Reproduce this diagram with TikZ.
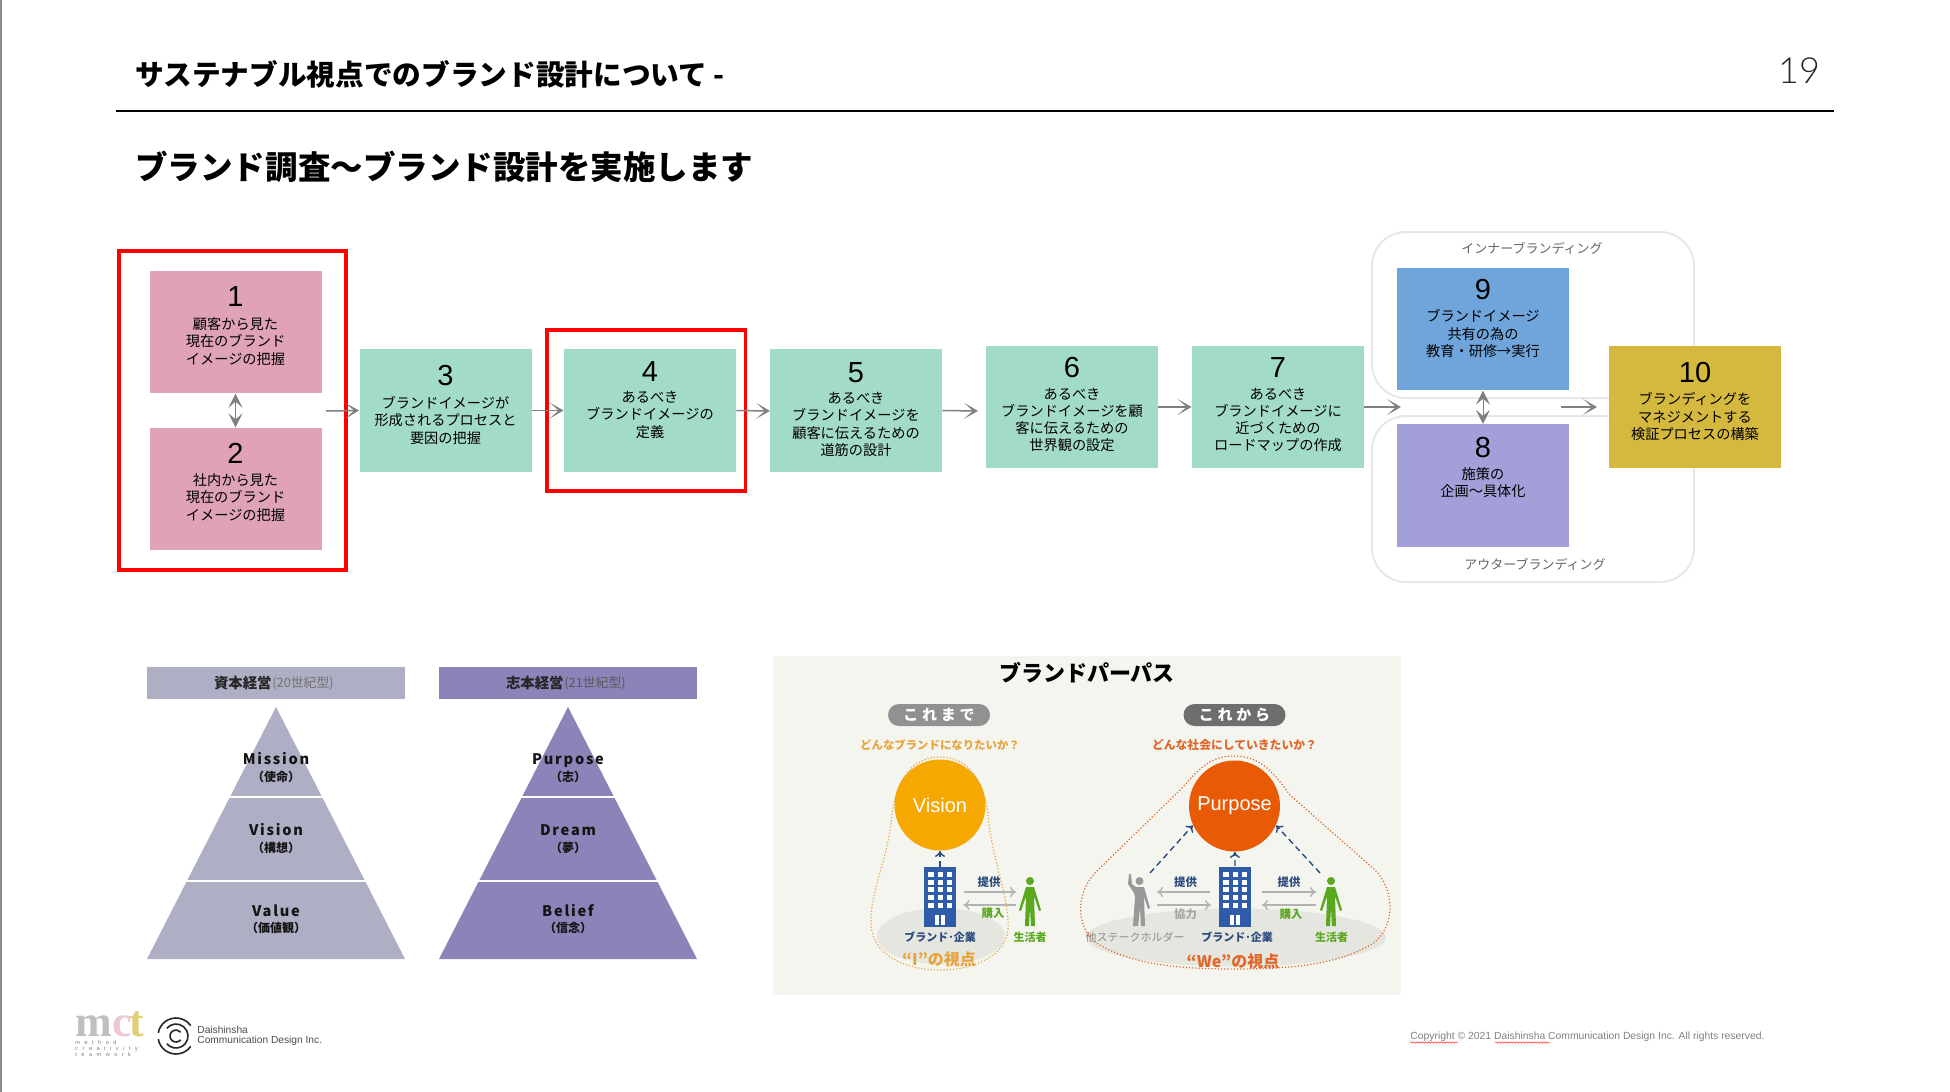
\documentclass[tikz,border=0pt]{standalone}
\usepackage{fontspec}
\usetikzlibrary{arrows.meta, positioning, calc, decorations.pathmorphing}
\setmainfont{Noto Sans CJK JP}
\newfontfamily\latinfont{Liberation Sans}
\newfontfamily\serifbold{Liberation Serif}
\newfontfamily\lightfont{Lato Light}
\newfontfamily\spacedfont[LetterSpace=12]{Noto Sans CJK JP}
\newfontfamily\widefont[LetterSpace=25]{Noto Sans CJK JP}
\newfontfamily\tinyfont[LetterSpace=80]{Liberation Sans}

\definecolor{stepPink}{HTML}{DFA2B8}
\definecolor{stepGreen}{HTML}{A3DBC9}
\definecolor{stepBlue}{HTML}{70A5DB}
\definecolor{stepPurple}{HTML}{A29FD9}
\definecolor{stepYellow}{HTML}{D5B93F}
\definecolor{capGray}{HTML}{AEAEC4}
\definecolor{purPurple}{HTML}{8B84B8}
\definecolor{panelBg}{HTML}{F5F5F0}
\definecolor{groundGray}{HTML}{E6E6E0}
\definecolor{navyBlue}{HTML}{2A4A80}
\definecolor{bldgBlue}{HTML}{2F5CA8}
\definecolor{manGreen}{HTML}{5AA820}
\definecolor{visionOrange}{HTML}{F5A800}
\definecolor{purposeOrange}{HTML}{E85A04}
\definecolor{iOrange}{HTML}{E8A33D}
\definecolor{weOrange}{HTML}{E0662A}

\newcommand{\bldg}[1]{%
  \begin{scope}[shift={(#1,0)}]
    \fill[bldgBlue] (-16,866.5) rectangle (16,926.5);
    \foreach \wx in {-11.6,-2.2,6.7}
      \foreach \wy in {872,880,887,895,903}
        \fill[white] (\wx,\wy) rectangle ++(5.4,5);
    \fill[white] (-4.7,915) rectangle (-0.6,925);
    \fill[white] (0.6,915) rectangle (4.7,925);
  \end{scope}}
\newcommand{\person}[1]{%
  \begin{scope}[shift={(#1,0)}]
    \fill[manGreen] (0,881) circle [radius=4];
    \fill[manGreen] (-4,887) -- (4,887) -- (11,910) -- (9,911) -- (4,896) -- (5,926)
      -- (1,926) -- (0,908) -- (-1,926) -- (-5,926) -- (-4,896) -- (-9,911) -- (-11,910) -- cycle;
  \end{scope}}

\begin{document}
\begin{tikzpicture}[
  x=0.5pt, y=-0.5pt,
  stepbox/.style={minimum width=86pt, minimum height=61.25pt, inner sep=0pt},
  pinkbox/.style={stepbox, fill=stepPink},
  greenbox/.style={stepbox, fill=stepGreen},
  stepnum/.style={font=\latinfont\fontsize{14.5}{14.5}\selectfont, inner sep=0pt},
  steptxt/.style={font=\fontsize{7.1}{8.65}\selectfont, align=center, inner sep=0pt, anchor=north,
                  execute at begin node=\rule{0pt}{6.2pt}},
  redframe/.style={draw=red, line width=1.9pt},
  groupbox/.style={draw=black!9, line width=1pt, rounded corners=17pt, inner sep=0pt},
  grouplabel/.style={font=\fontsize{6.5}{6.5}\selectfont, text=black!60, inner sep=0pt},
  flow/.style={draw=black!50, line width=0.75pt, -{Stealth[length=7pt, width=8pt, inset=4.5pt]}},
  twoway/.style={draw=black!50, line width=0.5pt,
                 {Stealth[length=7pt, width=7pt, inset=3pt]}-{Stealth[length=7pt, width=7pt, inset=3pt]}},
  capbar/.style={minimum width=129.25pt, minimum height=16pt, inner sep=0pt},
  pyrname/.style={font=\spacedfont\bfseries\fontsize{7.3}{7.3}\selectfont, text=black!92, inner sep=0pt, anchor=base},
  pyrsub/.style={font=\bfseries\fontsize{6}{6}\selectfont, text=black!92, inner sep=0pt},
  pill/.style={rounded corners=5.5pt, minimum width=51pt, minimum height=11pt, inner sep=0pt,
               text=white, font=\widefont\bfseries\fontsize{7.5}{7.5}\selectfont},
  ball/.style={circle, minimum size=45.5pt, inner sep=0pt, text=white,
               font=\latinfont\fontsize{10}{10}\selectfont},
  tag/.style={font=\bfseries\fontsize{5.7}{5.7}\selectfont, inner sep=0pt},
  who/.style={font=\fontsize{5.5}{5.5}\selectfont, inner sep=0pt},
  gives/.style={draw=black!30, line width=0.7pt, -{To[length=3pt, width=5pt]}},
  aim/.style={draw=navyBlue, line width=0.7pt, densely dashed, -{To[length=3pt, width=5pt]}},
  logoletter/.style={font=\serifbold\bfseries\fontsize{22}{22}\selectfont, inner sep=0pt, anchor=base west}
]
\useasboundingbox (0,0) rectangle (1950,1092);
\fill[white] (0,0) rectangle (1950,1092);
\draw[black!45, line width=1pt] (1,0) -- (1,1092);

%% Page head
\node[font=\bfseries\fontsize{14.33}{14.33}\selectfont, anchor=west, inner sep=0pt] (pagehead) at (135,74)
    {サステナブル視点でのブランド設計について -};
\node[font=\lightfont\fontsize{18}{18}\selectfont, text=black!85, inner sep=0pt] (pageno) at (1799,71) {19};
\draw[line width=1pt] (116,111) -- (1834,111);
\node[font=\bfseries\fontsize{16.26}{16.26}\selectfont, anchor=west, inner sep=0pt] (subhead) at (135,167)
    {ブランド調査～ブランド設計を実施します};

%% Groups behind steps 8, 9, 10
\node[groupbox, minimum width=161pt, minimum height=83pt] (inner) at (1533,315) {};
\node[groupbox, minimum width=161pt, minimum height=83pt] (outer) at (1533,499) {};
\node[grouplabel] (innerlabel) at (1532,248) {インナーブランディング};
\node[grouplabel] (outerlabel) at (1535,564) {アウターブランディング};

%% Steps
\node[pinkbox] (b1) at (235.5,332) {};
\node[pinkbox] (b2) at (235.5,489) {};
\node[greenbox] (b3) at (445.5,410.5) {};
\node[greenbox] (b4) at (650,410.5) {};
\node[greenbox] (b5) at (856,410.5) {};
\node[greenbox] (b6) at (1072,407) {};
\node[greenbox] (b7) at (1278,407) {};
\node[stepbox, fill=stepBlue] (b9) at (1483,329) {};
\node[stepbox, fill=stepPurple] (b8) at (1483,485.5) {};
\node[stepbox, fill=stepYellow] (b10) at (1695,407) {};

\node[stepnum] (n1) at ($(b1.north)+(0,26.5)$) {1};
\node[steptxt] (t1) at ($(b1.north)+(0,47)$) {顧客から見た\\現在のブランド\\イメージの把握};
\node[stepnum] (n2) at ($(b2.north)+(0,26.5)$) {2};
\node[steptxt] (t2) at ($(b2.north)+(0,46)$) {社内から見た\\現在のブランド\\イメージの把握};
\node[stepnum] (n3) at ($(b3.north)+(0,26.5)$) {3};
\node[steptxt] (t3) at ($(b3.north)+(0,47)$) {ブランドイメージが\\形成されるプロセスと\\要因の把握};
\node[stepnum] (n4) at ($(b4.north)+(0,22.5)$) {4};
\node[steptxt] (t4) at ($(b4.north)+(0,42)$) {あるべき\\ブランドイメージの\\定義};
\node[stepnum] (n5) at ($(b5.north)+(0,23.5)$) {5};
\node[steptxt] (t5) at ($(b5.north)+(0,43)$) {あるべき\\ブランドイメージを\\顧客に伝えるための\\道筋の設計};
\node[stepnum] (n6) at ($(b6.north)+(0,22.5)$) {6};
\node[steptxt] (t6) at ($(b6.north)+(0,42)$) {あるべき\\ブランドイメージを顧\\客に伝えるための\\世界観の設定};
\node[stepnum] (n7) at ($(b7.north)+(0,22.5)$) {7};
\node[steptxt] (t7) at ($(b7.north)+(0,42)$) {あるべき\\ブランドイメージに\\近づくための\\ロードマップの作成};
\node[stepnum] (n9) at ($(b9.north)+(0,22.5)$) {9};
\node[steptxt] (t9) at ($(b9.north)+(0,42)$) {ブランドイメージ\\共有の為の\\教育・研修→実行};
\node[stepnum] (n8) at ($(b8.north)+(0,23.5)$) {8};
\node[steptxt] (t8) at ($(b8.north)+(0,43)$) {施策の\\企画～具体化};
\node[stepnum] (n10) at ($(b10.north)+(0,27.5)$) {10};
\node[steptxt] (t10) at ($(b10.north)+(0,47)$) {ブランディングを\\マネジメントする\\検証プロセスの構築};

%% Red frames
\draw[redframe] (119,251) rectangle (346,570);
\draw[redframe] (547,330) rectangle (745.5,491);

%% Connectors
\coordinate (c12) at (326,411);
\coordinate (to6) at (978,411);
\coordinate (to5) at (770,411);
\coordinate (off7) at (1401,407);
\coordinate (from89) at (1561,407);
\coordinate (to10) at (1597,407);
\draw[twoway] (b1.south) -- (b2.north);
\draw[flow] (c12) -- (b3.west);
\draw[flow] (b3.east) -- (b4.west);
\draw[flow] (b4.east) -- (to5);
\draw[flow] (b5.east) -- (to6);
\draw[flow] (b6.east) -- (b7.west);
\draw[flow] (b7.east) -- (off7);
\draw[twoway] (b9.south) -- (b8.north);
\draw[flow] (from89) -- (to10);

%% Pyramids
\node[capbar, fill=capGray] (capleft) at (276,683) {};
\node[capbar, fill=purPurple] (capright) at (568,683) {};
\node[inner sep=0pt, anchor=east, font=\bfseries\fontsize{7.2}{7.2}\selectfont, text=black!85] (capl1) at (272,683) {資本経営};
\node[inner sep=0pt, anchor=west, font=\fontsize{6.4}{6.4}\selectfont, text=black!55] (capl2) at (272,683) {(20世紀型)};
\node[inner sep=0pt, anchor=east, font=\bfseries\fontsize{7.2}{7.2}\selectfont, text=black!85] (capr1) at (564,683) {志本経営};
\node[inner sep=0pt, anchor=west, font=\fontsize{6.4}{6.4}\selectfont, text=black!65] (capr2) at (564,683) {(21世紀型)};
\foreach \cx/\col in {276/capGray, 568/purPurple} {
  \fill[\col] (\cx,707) -- ($(\cx,707)+(129,252)$) -- ($(\cx,707)+(-129,252)$) -- cycle;
  \draw[white, line width=1pt] ($(\cx,797)+(-55,0)$) -- ($(\cx,797)+(55,0)$);
  \draw[white, line width=1pt] ($(\cx,881)+(-100,0)$) -- ($(\cx,881)+(100,0)$);
}
\node[pyrname] (mission) at (276,764.5) {Mission};
\node[pyrsub] (missionsub) at (276,777) {（使命）};
\node[pyrname] (vision) at (276,835.5) {Vision};
\node[pyrsub] (visionsub) at (276,848) {（構想）};
\node[pyrname] (value) at (276,916.5) {Value};
\node[pyrsub] (valuesub) at (276,928) {（価値観）};
\node[pyrname] (purpose) at (568,764.5) {Purpose};
\node[pyrsub] (purposesub) at (568,777) {（志）};
\node[pyrname] (dream) at (568,835.5) {Dream};
\node[pyrsub] (dreamsub) at (568,848) {（夢）};
\node[pyrname] (belief) at (568,916.5) {Belief};
\node[pyrsub] (beliefsub) at (568,928) {（信念）};

%% Brand purpose panel
\fill[panelBg] (772.5,656) rectangle (1400.5,995);
\node[font=\bfseries\fontsize{11}{11}\selectfont, inner sep=0pt] (paneltitle) at (1087,673) {ブランドパーパス};
\node[pill, fill=black!43] (before) at (939,715) {これまで};
\node[pill, fill=black!57] (after) at (1234.5,715) {これから};
\node[font=\bfseries\fontsize{5.7}{5.7}\selectfont, text=iOrange, inner sep=0pt] (askleft) at (940,745) {どんなブランドになりたいか？};
\node[font=\bfseries\fontsize{5.9}{5.9}\selectfont, text=weOrange, inner sep=0pt] (askright) at (1234.5,745) {どんな社会にしていきたいか？};

\fill[groundGray] (941,936) ellipse [x radius=64, y radius=28];
\fill[groundGray] (1236,937.5) ellipse [x radius=150, y radius=29];

\node[ball, fill=visionOrange] (vball) at (940,805) {Vision};
\node[ball, fill=purposeOrange] (pball) at (1234.5,806) {Purpose};

\draw[iOrange, densely dotted, line width=0.6pt] (940,757) .. controls (968,757) and (984,780) .. (988,815)
  .. controls (992,860) and (1010,900) .. (1008,930) .. controls (1006,955) and (975,970) .. (940,970)
  .. controls (905,970) and (873,955) .. (871,925) .. controls (870,890) and (888,860) .. (892,815)
  .. controls (896,780) and (912,757) .. (940,757) -- cycle;
\draw[weOrange, densely dotted, line width=0.6pt] (1234,756) .. controls (1262,756) and (1275,775) .. (1290,795)
  -- (1375,870) .. controls (1395,890) and (1395,925) .. (1375,942) .. controls (1340,965) and (1290,969) .. (1235,969)
  .. controls (1180,969) and (1130,965) .. (1095,942) .. controls (1075,925) and (1075,890) .. (1100,868)
  -- (1180,790) .. controls (1195,775) and (1206,756) .. (1234,756) -- cycle;

\bldg{940}
\bldg{1235}
\person{1030}
\person{1331}
%% the stakeholder with one arm up
\fill[black!40] (1139.5,881) circle [radius=4];
\fill[black!40] (1136,887) -- (1144,887) -- (1150,908) -- (1148,909) -- (1144,897) -- (1145,926)
  -- (1141,926) -- (1140,908) -- (1138,926) -- (1133,926) -- (1135,897) -- (1134,893)
  -- (1128,884) -- (1129,874) -- (1131,874) -- (1132,884) -- cycle;

\coordinate (bl) at (940,867);
\coordinate (br) at (1235,866);
\coordinate (sta) at (1150,873);
\coordinate (man) at (1320,873);
\draw[aim] (bl) -- (vball);
\draw[aim] (br) -- (pball);
\draw[aim] (sta) -- (pball.205);
\draw[aim] (man) -- (pball.335);

\coordinate (g1) at (963.5,892); \coordinate (g2) at (1016,892);
\coordinate (g3) at (1016,905);  \coordinate (g4) at (963.5,905);
\coordinate (g5) at (1262,892);  \coordinate (g6) at (1316,892);
\coordinate (g7) at (1316,905);  \coordinate (g8) at (1262,905);
\coordinate (g9) at (1210,892);  \coordinate (g10) at (1157,892);
\coordinate (g11) at (1157,905); \coordinate (g12) at (1211,905);
\draw[gives] (g1) -- (g2);
\draw[gives] (g3) -- (g4);
\draw[gives] (g5) -- (g6);
\draw[gives] (g7) -- (g8);
\draw[gives] (g9) -- (g10);
\draw[gives] (g11) -- (g12);

\node[tag, text=navyBlue] (give1) at (989,882) {提供};
\node[tag, text=manGreen] (buy1) at (993,913) {購入};
\node[tag, text=navyBlue] (give2) at (1185.5,882) {提供};
\node[tag, text=black!35] (help) at (1185.5,914) {協力};
\node[tag, text=navyBlue] (give3) at (1289,882) {提供};
\node[tag, text=manGreen] (buy2) at (1291,914) {購入};
\node[who, text=navyBlue, font=\bfseries\fontsize{5.5}{5.5}\selectfont] (co1) at (940,937) {ブランド･企業};
\node[who, text=navyBlue, font=\bfseries\fontsize{5.5}{5.5}\selectfont] (co2) at (1237,937) {ブランド･企業};
\node[who, text=manGreen, font=\bfseries\fontsize{5.5}{5.5}\selectfont] (man1) at (1030,937) {生活者};
\node[who, text=manGreen, font=\bfseries\fontsize{5.5}{5.5}\selectfont] (man2) at (1331.5,937) {生活者};
\node[who, text=black!45] (others) at (1135,937) {他ステークホルダー};
\node[font=\bfseries\fontsize{8}{8}\selectfont, text=iOrange, inner sep=0pt] (iview) at (939,959) {“I”の視点};
\node[font=\bfseries\fontsize{8}{8}\selectfont, text=weOrange, inner sep=0pt] (weview) at (1233,961) {“We”の視点};

%% Footer logos
\node[logoletter, text=black!25] (logom) at (75,1036) {m};
\node[logoletter, text=stepPink!60] (logoc) at (112,1036) {c};
\node[logoletter, text=stepYellow!70] (logot) at (129,1036) {t};
\node[font=\tinyfont\fontsize{2.8}{3}\selectfont, text=black!50, align=left, inner sep=0pt, anchor=west] (logosub) at (75,1048) {method\\creativity\\teamwork};
\coordinate (ring) at (176,1036);
\draw[black!85, line width=0.8pt] (ring) ++(35:18) arc [start angle=35, end angle=170, radius=18];
\draw[black!85, line width=0.8pt] (ring) ++(190:18) arc [start angle=190, end angle=325, radius=18];
\draw[black!85, line width=0.8pt] (ring) ++(-140:12) arc [start angle=-140, end angle=140, radius=12];
\draw[black!85, line width=0.8pt] (ring) ++(40:6) arc [start angle=40, end angle=320, radius=6];
\node[font=\latinfont\fontsize{5.1}{5.1}\selectfont, text=black!70, anchor=west, inner sep=0pt] (dai1) at (197,1030) {Daishinsha};
\node[font=\latinfont\fontsize{5.1}{5.1}\selectfont, text=black!70, anchor=west, inner sep=0pt] (dai2) at (197,1041) {Communication Design Inc.};

%% Copyright
\node[font=\latinfont\fontsize{5.18}{5.18}\selectfont, text=black!50, anchor=west, inner sep=0pt] (rights) at (1410,1037)
    {Copyright © 2021 Daishinsha Communication Design Inc. All rights reserved.};
\draw[red!80, line width=0.25pt, decorate, decoration={snake, segment length=1.5pt, amplitude=0.35pt}] (1410,1042.5) -- (1458,1042.5);
\draw[red!80, line width=0.25pt, decorate, decoration={snake, segment length=1.5pt, amplitude=0.35pt}] (1495,1042.5) -- (1550,1042.5);
\end{tikzpicture}
\end{document}
